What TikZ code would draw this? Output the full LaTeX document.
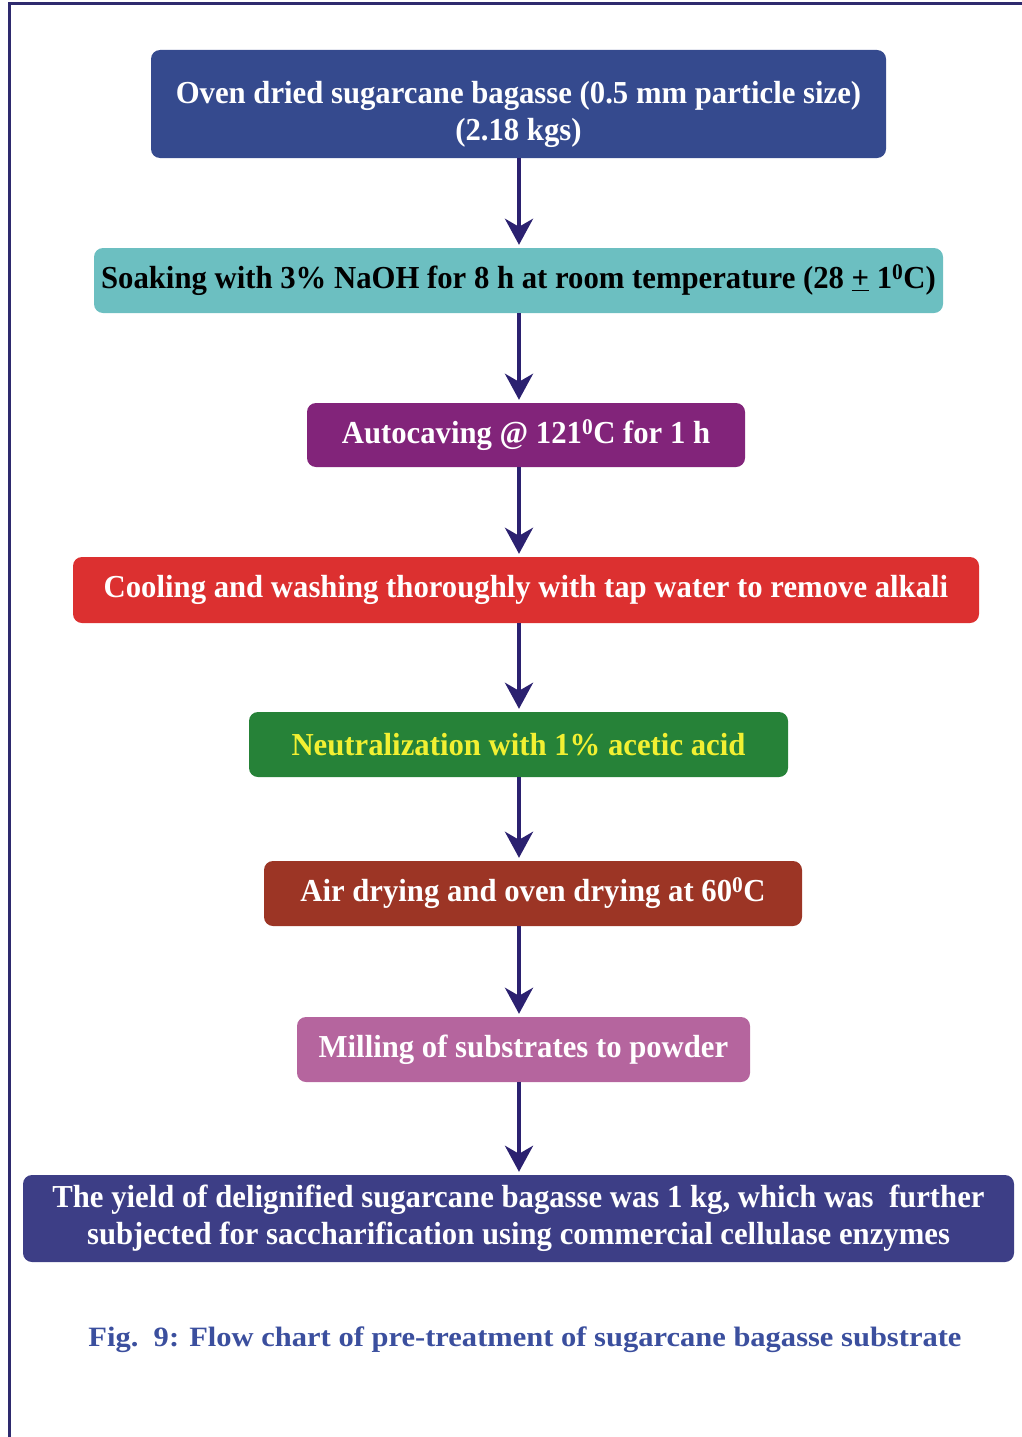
\documentclass[tikz,border=0pt]{standalone}
\usepackage{fontspec}
\newfontfamily\flowfont{Liberation Serif}[FakeStretch=0.96]
\newfontfamily\capfont{Liberation Serif}[FakeStretch=1.09]
\usetikzlibrary{arrows.meta,positioning}

\definecolor{framenavy}{HTML}{2E2A6E}
\definecolor{arrownavy}{HTML}{2B2170}
\definecolor{ovenblue}{HTML}{354A8E}
\definecolor{soakteal}{HTML}{6CBFC1}
\definecolor{autopurple}{HTML}{82247A}
\definecolor{coolred}{HTML}{DC3030}
\definecolor{neutgreen}{HTML}{268238}
\definecolor{neutyellow}{HTML}{F2F032}
\definecolor{drybrown}{HTML}{9C3525}
\definecolor{millpink}{HTML}{B5659E}
\definecolor{yieldblue}{HTML}{3D3E86}
\definecolor{captionblue}{HTML}{3B4F9E}

\tikzset{
  stepbox/.style={rectangle, rounded corners=9pt, inner sep=0pt, align=center,
    text=white, font=\flowfont\bfseries\fontsize{32}{37}\selectfont},
  flow/.style={draw=arrownavy, line width=4pt, shorten >=3pt,
    -{Stealth[length=26pt,width=28pt,inset=8pt]}},
}

\begin{document}
\begin{tikzpicture}[x=1pt,y=-1pt]
  \useasboundingbox (0,0) rectangle (1022,1437);
  % frame (left and top edges only)
  \draw[framenavy, line width=3pt] (9,1437) -- (9,4) -- (1022,4);

  \coordinate (axis) at (519,0);

  \node[stepbox, fill=ovenblue, minimum width=735pt, minimum height=108pt] (oven) at (518.5,104)
    {\rule{0pt}{44pt}Oven dried sugarcane bagasse (0.5 mm particle size)\\(2.18 kgs)};
  \node[stepbox, fill=soakteal, text=black, minimum width=849pt, minimum height=65pt] (soak) at (518.5,280.5)
    {Soaking with 3\% NaOH for 8 h at room temperature (28 \underline{+} 1\textsuperscript{0}C)};
  \node[stepbox, fill=autopurple, minimum width=438pt, minimum height=64pt] (auto) at (526,435)
    {Autocaving @ 121\textsuperscript{0}C for 1 h};
  \node[stepbox, fill=coolred, minimum width=906pt, minimum height=66pt] (cool) at (526,590)
    {Cooling and washing thoroughly with tap water to remove alkali};
  \node[stepbox, fill=neutgreen, text=neutyellow, minimum width=539pt, minimum height=65pt] (neut) at (518.5,744.5)
    {Neutralization with 1\% acetic acid};
  \node[stepbox, fill=drybrown, minimum width=538pt, minimum height=65pt] (dry) at (533,893.5)
    {Air drying and oven drying at 60\textsuperscript{0}C};
  \node[stepbox, fill=millpink, minimum width=453pt, minimum height=65pt] (mill) at (523.5,1049.5)
    {Milling of substrates to powder};
  \node[stepbox, fill=yieldblue, minimum width=991pt, minimum height=87pt] (yield) at (518.5,1218.5)
    {The yield of delignified sugarcane bagasse was 1 kg, which was \ further\\
     subjected for saccharification using commercial cellulase enzymes};

  \node[font=\capfont\bfseries\fontsize{28}{32}\selectfont, text=captionblue] (caption) at (525,1340)
    {Fig.\ \ 9: Flow chart of pre-treatment of sugarcane bagasse substrate};

  % arrows down the axis
  \draw[flow] (oven.south -| axis) -- (soak.north -| axis);
  \draw[flow] (soak.south -| axis) -- (auto.north -| axis);
  \draw[flow] (auto.south -| axis) -- (cool.north -| axis);
  \draw[flow] (cool.south -| axis) -- (neut.north -| axis);
  \draw[flow] (neut.south -| axis) -- (dry.north -| axis);
  \draw[flow] (dry.south -| axis) -- (mill.north -| axis);
  \draw[flow] (mill.south -| axis) -- (yield.north -| axis);
\end{tikzpicture}
\end{document}
